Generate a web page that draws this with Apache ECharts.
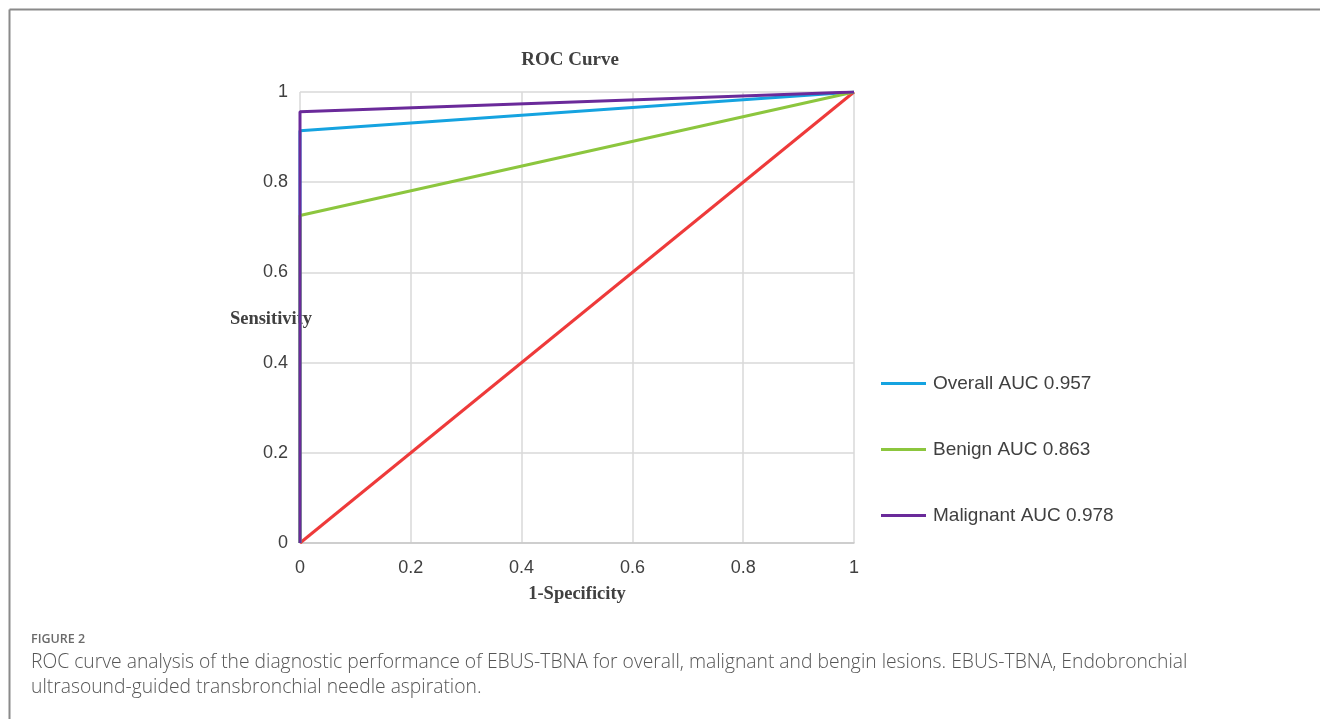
<!DOCTYPE html>
<html>
<head>
<meta charset="utf-8">
<script src="https://cdn.jsdelivr.net/npm/echarts@6/dist/echarts.min.js"></script>
<style>
  html, body { margin: 0; padding: 0; background: #fff; }
  #chart { width: 1320px; height: 719px; }
</style>
</head>
<body>
<div id="chart"></div>
<script>
// ROC points
const seriesNames = ['Overall AUC 0.957', 'Benign AUC 0.863', 'Malignant AUC 0.978'];
const overallX = [0, 0, 1];
const overallY = [0, 0.914, 1];
const benignX = [0, 0, 1];
const benignY = [0, 0.726, 1];
const malignantX = [0, 0, 1];
const malignantY = [0, 0.956, 1];
const refX = [0, 1];
const refY = [0, 1];

const captionHead = 'FIGURE 2';
const captionLines = [
  'ROC curve analysis of the diagnostic performance of EBUS-TBNA for overall, malignant and bengin lesions. EBUS-TBNA, Endobronchial',
  'ultrasound-guided transbronchial needle aspiration.'
];

function pairs(xs, ys) {
  return xs.map((x, i) => [x, ys[i]]);
}

const serif = '"Liberation Serif", "DejaVu Serif", serif';
const sans = '"Liberation Sans", Arial, sans-serif';

const chart = echarts.init(document.getElementById('chart'), null, { renderer: 'canvas' });

const lineSeries = (name, data, color, z) => ({
  name: name,
  type: 'line',
  data: data,
  symbol: 'none',
  z: z,
  lineStyle: { color: color, width: 3 },
  itemStyle: { color: color },
  animation: false
});

chart.setOption({
  animation: false,
  grid: { left: 300, right: 466, top: 92, bottom: 176 },
  xAxis: {
    type: 'value', min: 0, max: 1, interval: 0.2,
    axisLine: { show: true, lineStyle: { color: '#c8c8c8', width: 1.5 } },
    axisTick: { show: false },
    splitLine: { show: true, lineStyle: { color: '#d9d9d9', width: 1.5 } },
    axisLabel: {
      color: '#404040', fontFamily: sans, fontSize: 18, margin: 16,
      formatter: v => String(+v.toFixed(1))
    }
  },
  yAxis: {
    type: 'value', min: 0, max: 1, interval: 0.2,
    axisLine: { show: false },
    axisTick: { show: false },
    splitLine: { show: true, lineStyle: { color: '#d9d9d9', width: 1.5 } },
    axisLabel: {
      color: '#404040', fontFamily: sans, fontSize: 18, margin: 12,
      formatter: v => String(+v.toFixed(1))
    }
  },
  legend: {
    orient: 'vertical',
    left: 876, top: 368,
    itemWidth: 45, itemHeight: 3, itemGap: 45,
    icon: 'rect',
    data: seriesNames,
    textStyle: { color: '#404040', fontFamily: sans, fontSize: 19, lineHeight: 21, padding: [0, 0, 0, 2] }
  },
  series: [
    lineSeries('ref', pairs(refX, refY), '#ee3a3a', 2),
    lineSeries(seriesNames[0], pairs(overallX, overallY), '#15a3e0', 3),
    lineSeries(seriesNames[1], pairs(benignX, benignY), '#8cc63e', 4),
    lineSeries(seriesNames[2], pairs(malignantX, malignantY), '#6a2a9a', 5)
  ],
  graphic: [
    { type: 'line', shape: { x1: 9.5, y1: 9.5, x2: 1320, y2: 9.5 }, style: { stroke: '#8a8a8a', lineWidth: 2 } },
    { type: 'line', shape: { x1: 9.5, y1: 9.5, x2: 9.5, y2: 719 }, style: { stroke: '#8a8a8a', lineWidth: 2 } },
    { type: 'text', x: 570, y: 60, style: { text: 'ROC Curve', fill: '#404040', font: 'bold 19px ' + serif, textAlign: 'center', textVerticalAlign: 'middle' } },
    { type: 'text', x: 271, y: 319, style: { text: 'Sensitivity', fill: '#404040', font: 'bold 18.5px ' + serif, textAlign: 'center', textVerticalAlign: 'middle' } },
    { type: 'text', x: 577, y: 594, style: { text: '1-Specificity', fill: '#404040', font: 'bold 18.5px ' + serif, textAlign: 'center', textVerticalAlign: 'middle' } },
    { type: 'text', x: 31, y: 639, style: { text: captionHead, fill: '#6a6a6a', font: '600 12.5px "Open Sans", sans-serif', textVerticalAlign: 'middle' } },
    { type: 'text', x: 31, y: 663, style: { text: captionLines[0], fill: '#555555', font: '300 19.3px "Open Sans", sans-serif', textVerticalAlign: 'middle' } },
    { type: 'text', x: 31, y: 688, style: { text: captionLines[1], fill: '#555555', font: '300 19.3px "Open Sans", sans-serif', textVerticalAlign: 'middle' } }
  ]
});

window.addEventListener('resize', () => chart && chart.resize());
</script>
</body>
</html>
